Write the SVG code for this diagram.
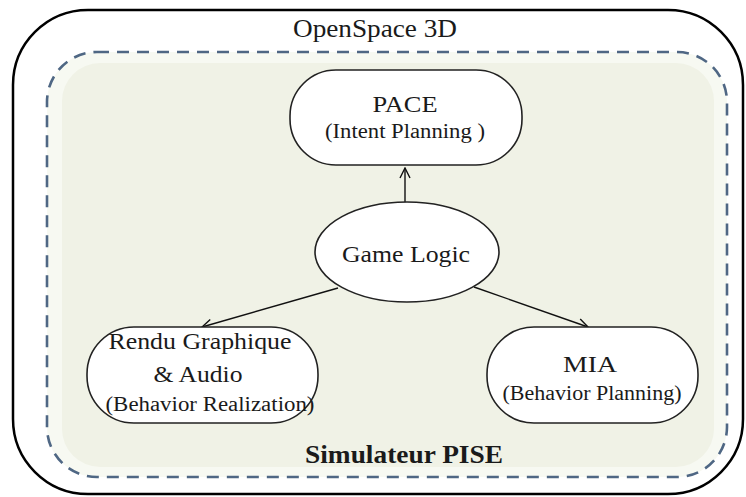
<svg xmlns="http://www.w3.org/2000/svg" width="746" height="497" viewBox="0 0 746 497">
<defs>
<marker id="arr" viewBox="0 0 12 12" refX="11" refY="6" markerWidth="12" markerHeight="12" markerUnits="userSpaceOnUse" orient="auto">
<path d="M1,1 L11,6 L1,11" fill="none" stroke="#111" stroke-width="1.4"/>
</marker>
<style>
.node{fill:#fff;stroke:#222;stroke-width:1.6}
.edge{stroke:#111;stroke-width:1.4;fill:none;marker-end:url(#arr)}
</style>
</defs>
<rect width="746" height="497" fill="#fff"/>
<g id="opensspace">
<rect x="13" y="10" width="730" height="484" rx="75" ry="75" fill="#fff" stroke="#000" stroke-width="2.5"/>
<text x="375" y="37" font-family="'Liberation Serif', 'Times New Roman', serif" font-size="25" fill="#1a1a1a" text-anchor="middle" textLength="164" lengthAdjust="spacingAndGlyphs">OpenSpace 3D</text>
</g>
<g id="pise">
<rect x="47" y="52" width="680" height="425" rx="50" ry="50" fill="#f7f9f2" stroke="none"/>
<rect x="62" y="63" width="652" height="404" rx="38" ry="38" fill="#f0f2e6" stroke="none"/>
<rect x="47" y="52" width="680" height="425" rx="50" ry="50" fill="none" stroke="#4f6784" stroke-width="2.6" stroke-dasharray="12 8"/>
<text x="404" y="463" font-family="'Liberation Serif', 'Times New Roman', serif" font-size="25" font-weight="bold" fill="#1a1a1a" text-anchor="middle" textLength="198" lengthAdjust="spacingAndGlyphs">Simulateur PISE</text>
</g>
<g id="connectors">
<line class="edge" x1="405" y1="203" x2="405" y2="168"/>
<line class="edge" x1="338" y1="288" x2="202" y2="327"/>
<line class="edge" x1="474" y1="287" x2="588" y2="327"/>
</g>
<g id="pace" font-family="'Liberation Serif', 'Times New Roman', serif" fill="#1a1a1a" text-anchor="middle">
<rect class="node" x="290" y="70" width="232" height="95" rx="46" ry="46"/>
<text x="405" y="112" font-size="23" textLength="65" lengthAdjust="spacingAndGlyphs">PACE</text>
<text x="405" y="138" font-size="20" textLength="160" lengthAdjust="spacingAndGlyphs">(Intent Planning )</text>
</g>
<g id="gamelogic" font-family="'Liberation Serif', 'Times New Roman', serif" fill="#1a1a1a" text-anchor="middle">
<ellipse class="node" cx="407" cy="252" rx="92" ry="50"/>
<text x="406" y="262" font-size="24" textLength="128" lengthAdjust="spacingAndGlyphs">Game Logic</text>
</g>
<g id="rendu" font-family="'Liberation Serif', 'Times New Roman', serif" fill="#1a1a1a" text-anchor="middle">
<rect class="node" x="87" y="327" width="231" height="96" rx="47" ry="47"/>
<text x="200" y="349" font-size="24" textLength="183" lengthAdjust="spacingAndGlyphs">Rendu Graphique</text>
<text x="198" y="382" font-size="24" textLength="89" lengthAdjust="spacingAndGlyphs">&amp; Audio</text>
<text x="210" y="411" font-size="20" textLength="209" lengthAdjust="spacingAndGlyphs">(Behavior Realization)</text>
</g>
<g id="mia" font-family="'Liberation Serif', 'Times New Roman', serif" fill="#1a1a1a" text-anchor="middle">
<rect class="node" x="487" y="327" width="211" height="96" rx="47" ry="47"/>
<text x="590" y="372" font-size="23" textLength="54" lengthAdjust="spacingAndGlyphs">MIA</text>
<text x="592" y="400" font-size="20" textLength="179" lengthAdjust="spacingAndGlyphs">(Behavior Planning)</text>
</g>
</svg>
